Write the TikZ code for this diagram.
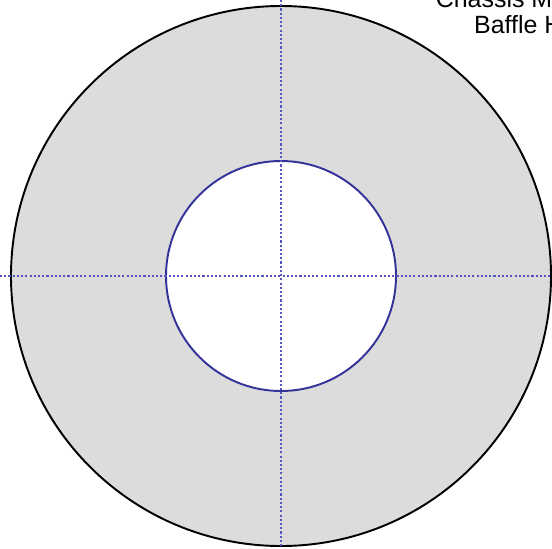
\documentclass[tikz,border=0pt]{standalone}
\usepackage{fontspec}
\setmainfont{Liberation Sans}
\definecolor{ringgray}{HTML}{DCDCDC}
\definecolor{holeblue}{HTML}{333399}
\definecolor{axisblue}{HTML}{5555BB}
\tikzset{
  axis/.style={axisblue, line width=0.6pt, dash pattern=on 1.2pt off 1.2pt},
  label/.style={inner sep=0pt, align=center, font=\fontsize{14.2}{14.8}\selectfont}
}
\begin{document}
\begin{tikzpicture}
            \useasboundingbox (0,0) rectangle (11.04,10.96);
            % define point
            \coordinate (O) at (5.62,5.44);
            \coordinate (T) at (5.62,10.96);
            \coordinate (U) at (5.62,0);
            \coordinate (L) at (0,5.44);
            \coordinate (R) at (11.04,5.44);
            % ring
            \fill[ringgray, even odd rule] (O) circle (5.4) (O) circle (2.3);
            \draw[line width=1.1pt] (O) circle (5.4);
            \draw[line width=1.1pt, holeblue] (O) circle (2.3);
            % center lines
            \draw[axis] (T) -- (U);
            \draw[axis] (L) -- (R);
            \node[label, anchor=south] (lbl) at (10.70,10.28) {Chassis Mounting\\Baffle Hole};
        \end{tikzpicture}
\end{document}
